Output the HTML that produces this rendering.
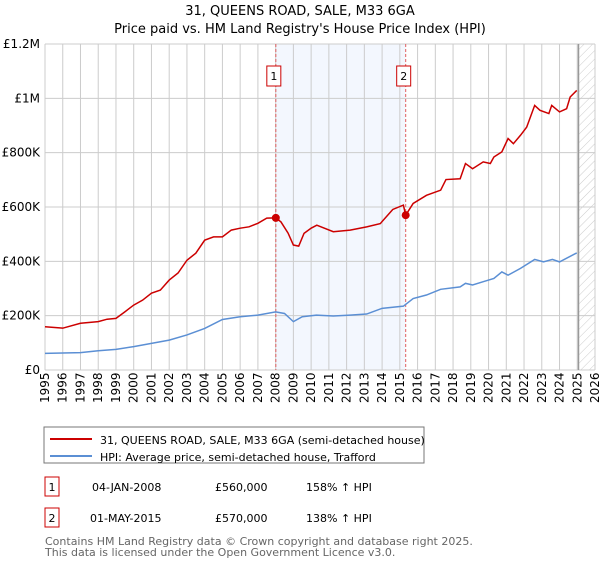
<!DOCTYPE html>
<html><head><meta charset="utf-8"><style>
body{margin:0;background:#fff;font-family:"DejaVu Sans","Liberation Sans",sans-serif;}
svg text{font-family:"DejaVu Sans","Liberation Sans",sans-serif;}
</style></head><body>
<svg id="c" width="600" height="560" xmlns="http://www.w3.org/2000/svg">
<defs><pattern id="hatch" width="6" height="6" patternUnits="userSpaceOnUse" patternTransform="rotate(45)"><line x1="0" y1="0" x2="0" y2="6" stroke="#ccc" stroke-width="1"/></pattern></defs>
<text x="300" y="15" text-anchor="middle" font-size="13">31, QUEENS ROAD, SALE, M33 6GA</text>
<text x="300" y="33" text-anchor="middle" font-size="13">Price paid vs. HM Land Registry's House Price Index (HPI)</text>
<g id="plot"></g>
<rect x="44" y="427" width="380" height="36" fill="#fff" stroke="#777"/>
<line x1="50" y1="439" x2="92" y2="439" stroke="#cc0000" stroke-width="2"/>
<text x="100" y="444" font-size="11">31, QUEENS ROAD, SALE, M33 6GA (semi-detached house)</text>
<line x1="50" y1="456" x2="92" y2="456" stroke="#5b8fd4" stroke-width="2"/>
<text x="100" y="461" font-size="11">HPI: Average price, semi-detached house, Trafford</text>
<g font-size="11">
<rect x="45" y="477" width="14" height="19" fill="#fff" stroke="#cc0000"/>
<text x="52" y="491" text-anchor="middle">1</text>
<text x="92" y="491">04-JAN-2008</text>
<text x="215" y="491">£560,000</text>
<text x="306" y="491">158% ↑ HPI</text>
<rect x="45" y="508" width="14" height="19" fill="#fff" stroke="#cc0000"/>
<text x="52" y="522" text-anchor="middle">2</text>
<text x="90" y="522">01-MAY-2015</text>
<text x="215" y="522">£570,000</text>
<text x="306" y="522">138% ↑ HPI</text>
</g>
<text x="45" y="545" font-size="11" fill="#666">Contains HM Land Registry data © Crown copyright and database right 2025.</text>
<text x="45" y="556" font-size="11" fill="#666">This data is licensed under the Open Government Licence v3.0.</text>
</svg>
<script>
const yTicks=[0,200000,400000,600000,800000,1000000,1200000];
const yLabels=["£0","£200K","£400K","£600K","£800K","£1M","£1.2M"];
const years=[1995,1996,1997,1998,1999,2000,2001,2002,2003,2004,2005,2006,2007,2008,2009,2010,2011,2012,2013,2014,2015,2016,2017,2018,2019,2020,2021,2022,2023,2024,2025,2026];
const redT=[1995,1996,1997,1998,1998.5,1999,1999.5,2000,2000.5,2001,2001.5,2002,2002.5,2003,2003.5,2004,2004.5,2005,2005.5,2006,2006.5,2007,2007.5,2008.01,2008.3,2008.7,2009,2009.3,2009.6,2010,2010.32,2011.25,2012.2,2013.13,2013.9,2014.6,2015.2,2015.33,2015.75,2016.5,2017.3,2017.6,2018.4,2018.7,2019.1,2019.7,2020.1,2020.3,2020.75,2021.1,2021.4,2021.8,2022.15,2022.6,2022.9,2023.4,2023.56,2024.0,2024.4,2024.6,2024.97];
const redV=[159,154,172,178,187,190,214,239,257,283,294,331,357,404,430,478,490,490,515,522,527,540,559,560,545,504,460,456,503,522,533,509,515,527,539,591,607,570,613,643,662,701,704,760,741,766,760,784,803,852,833,864,894,974,956,944,974,950,962,1005,1029];
const blueT=[1995,1997,1998,1999,2000,2001,2002,2003,2004,2005,2006,2007,2008,2008.5,2009,2009.5,2010.3,2011.25,2012.2,2013.13,2014,2015.2,2015.75,2016.5,2017.3,2018.4,2018.7,2019.1,2019.7,2020.3,2020.75,2021.1,2021.8,2022.6,2023.1,2023.6,2024.0,2024.97];
const blueV=[61,64,71,76,86,98,110,129,153,186,196,202,214,208,178,196,202,199,202,206,227,235,263,276,297,306,319,313,325,337,361,349,374,407,398,407,398,431];
const saleT=[2008.01,2015.33];
const saleV=[560000,570000];
const saleLabels=["1","2"];
const X0=45,X1=595,Y0=370,Y1=44;
const x=t=>X0+(t-1995)*(X1-X0)/31;
const y=v=>Y0-(v/1200000)*(Y0-Y1);
const NS="http://www.w3.org/2000/svg";
const g=document.getElementById('plot');
function mk(tag,attrs,parent){const e=document.createElementNS(NS,tag);for(const k in attrs)e.setAttribute(k,attrs[k]);(parent||g).appendChild(e);return e;}
let e;
e=mk('rect',{x:x(saleT[0]),y:Y1,width:x(saleT[1])-x(saleT[0]),height:Y0-Y1,fill:'#eef3fd',opacity:0.7});


e=mk('rect',{x:x(2025.07),y:Y1,width:X1-x(2025.07),height:Y0-Y1,fill:'url(#hatch)'});


years.forEach(t=>{e=mk('line',{x1:x(t),x2:x(t),y1:Y1,y2:Y0,stroke:'#ccc'});


e=mk('text',{x:0,y:0,'font-size':12,transform:`translate(${x(t)+4},403) rotate(-90)`});e.textContent=t;

});
yTicks.forEach((v,i)=>{e=mk('line',{x1:X0,x2:X1,y1:y(v),y2:y(v),stroke:'#ccc'});


e=mk('text',{x:40,y:y(v)+4,'text-anchor':'end','font-size':12});e.textContent=yLabels[i];

});
e=mk('line',{x1:x(2025.07),x2:x(2025.07),y1:Y1,y2:Y0,stroke:'#999','stroke-width':1.5});


saleT.forEach((t,i)=>{e=mk('line',{x1:x(t),x2:x(t),y1:Y1,y2:Y0,stroke:'#e06060','stroke-dasharray':'3,2'});


e=mk('rect',{x:x(t)-9,y:66,width:14,height:20,fill:'#fff',stroke:'#cc0000'});


e=mk('text',{x:x(t)-2,y:80,'text-anchor':'middle','font-size':11});e.textContent=saleLabels[i];

});
e=mk('polyline',{points:blueT.map((t,i)=>x(t)+','+y(blueV[i]*1000)).join(' '),fill:'none',stroke:'#5b8fd4','stroke-width':1.5});


e=mk('polyline',{points:redT.map((t,i)=>x(t)+','+y(redV[i]*1000)).join(' '),fill:'none',stroke:'#cc0000','stroke-width':1.5});


saleT.forEach((t,i)=>{e=mk('circle',{cx:x(t),cy:y(saleV[i]),r:4,fill:'#cc0000'});

});
</script>
</body></html>
